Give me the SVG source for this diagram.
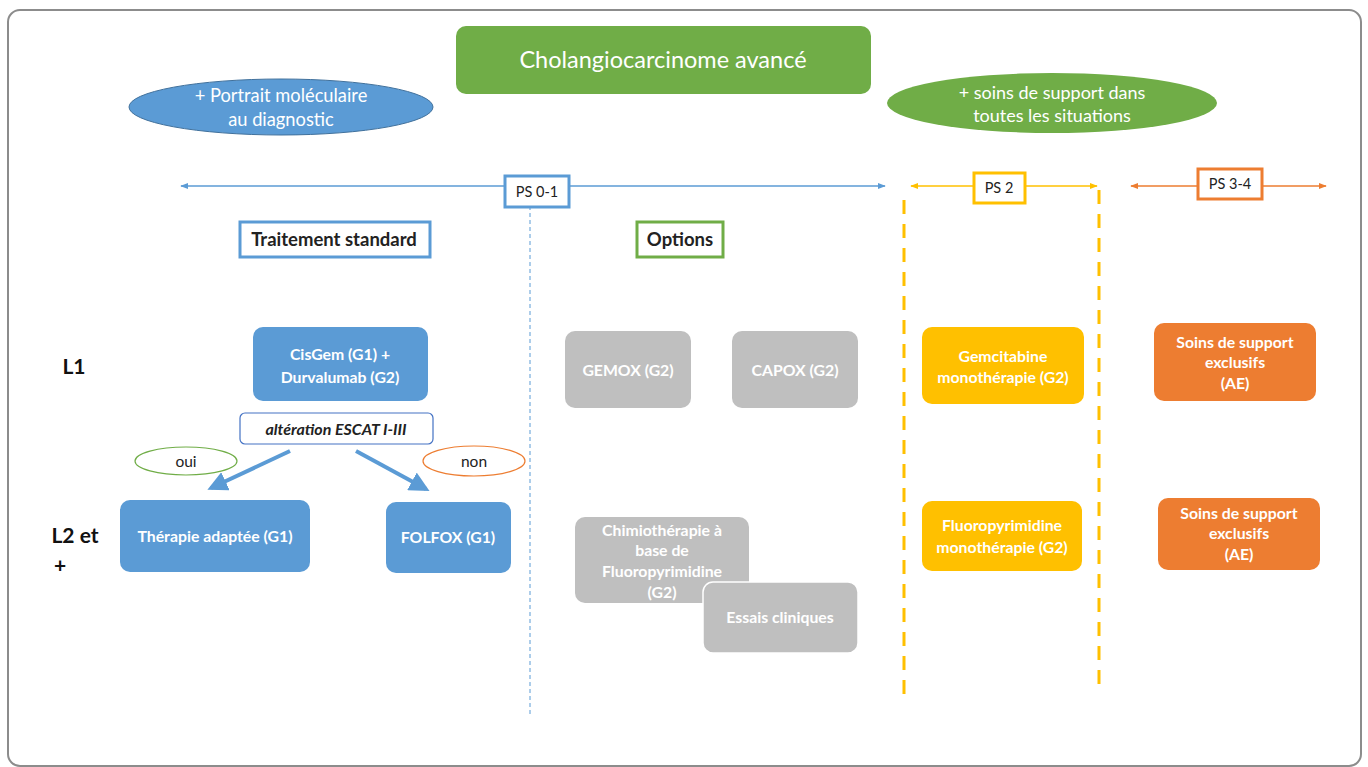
<svg xmlns="http://www.w3.org/2000/svg" width="1368" height="767" viewBox="0 0 1368 767">
<defs>
<style>
text{font-family:Lato,"Open Sans","Liberation Sans",sans-serif;text-anchor:middle}
.w{fill:#fff;font-weight:bold;font-size:15.8px}
.blue{fill:#5B9BD5}
.gray{fill:#BFBFBF}
.yel{fill:#FFC000}
.org{fill:#ED7D31}
.ps{fill:#fff;stroke-width:3}
.pst{font-size:14.5px;fill:#222}
.hdr{font-size:18.5px;font-weight:bold;fill:#222}
</style>
<marker id="ab" viewBox="0 0 10 10" refX="9" refY="5" markerWidth="8" markerHeight="8" orient="auto-start-reverse" markerUnits="userSpaceOnUse"><path d="M0,1 L10,5 L0,9 Z" fill="#5B9BD5"/></marker>
<marker id="ay" viewBox="0 0 10 10" refX="9" refY="5" markerWidth="8" markerHeight="8" orient="auto-start-reverse" markerUnits="userSpaceOnUse"><path d="M0,1 L10,5 L0,9 Z" fill="#FFC000"/></marker>
<marker id="ao" viewBox="0 0 10 10" refX="9" refY="5" markerWidth="8" markerHeight="8" orient="auto-start-reverse" markerUnits="userSpaceOnUse"><path d="M0,1 L10,5 L0,9 Z" fill="#ED7D31"/></marker>
<marker id="abig" viewBox="0 0 10 10" refX="8" refY="5" markerWidth="5" markerHeight="5" orient="auto"><path d="M0,0 L10,5 L0,10 Z" fill="#5B9BD5"/></marker>
</defs>
<rect x="0" y="0" width="1368" height="767" fill="#fff"/>
<rect x="8" y="10" width="1353" height="756" rx="12" fill="#fff" stroke="#8c8c8c" stroke-width="2"/>

<g id="title"><rect x="456" y="26" width="415" height="68" rx="10" fill="#70AD47"/><text x="663" y="68" font-size="23.5" fill="#fff">Cholangiocarcinome avancé</text></g>
<g id="portrait"><ellipse cx="281" cy="107" rx="152" ry="28" fill="#5B9BD5" stroke="#41719C" stroke-width="1"/><text x="281" y="102" font-size="18.3" fill="#fff">+ Portrait moléculaire</text><text x="281" y="126" font-size="18.3" fill="#fff">au diagnostic</text></g>
<g id="soins-all"><ellipse cx="1052" cy="103" rx="165" ry="30" fill="#70AD47"/><text x="1052" y="99" font-size="18" fill="#fff">+ soins de support dans</text><text x="1052" y="122" font-size="18" fill="#fff">toutes les situations</text></g>

<g id="connectors">
<line x1="181" y1="186" x2="885" y2="186" stroke="#5B9BD5" stroke-width="1.5" marker-start="url(#ab)" marker-end="url(#ab)"/>
<line x1="911" y1="186" x2="1097" y2="186" stroke="#FFC000" stroke-width="1.5" marker-start="url(#ay)" marker-end="url(#ay)"/>
<line x1="1131" y1="186" x2="1326" y2="186" stroke="#ED7D31" stroke-width="1.5" marker-start="url(#ao)" marker-end="url(#ao)"/>
<line x1="530" y1="192" x2="530" y2="716" stroke="#5B9BD5" stroke-width="1" stroke-dasharray="4,3"/>
<line x1="904" y1="200" x2="904" y2="704" stroke="#FFC000" stroke-width="3" stroke-dasharray="14,10"/>
<line x1="1099" y1="190" x2="1099" y2="692" stroke="#FFC000" stroke-width="3" stroke-dasharray="14,10"/>
<line x1="290" y1="451" x2="211" y2="488" stroke="#5B9BD5" stroke-width="4" marker-end="url(#abig)"/>
<line x1="356" y1="451" x2="426" y2="489" stroke="#5B9BD5" stroke-width="4" marker-end="url(#abig)"/>
</g>

<g id="ps01"><rect class="ps" x="505" y="176" width="64" height="31" stroke="#5B9BD5"/><text class="pst" x="537" y="197">PS 0-1</text></g>
<g id="ps2"><rect class="ps" x="974" y="173" width="51" height="30" stroke="#FFC000"/><text class="pst" x="999" y="193">PS 2</text></g>
<g id="ps34"><rect class="ps" x="1198" y="169" width="64" height="30" stroke="#ED7D31"/><text class="pst" x="1230" y="189">PS 3-4</text></g>

<g id="std"><rect x="240" y="222" width="190" height="35" fill="#fff" stroke="#5B9BD5" stroke-width="3"/><text class="hdr" x="334" y="246">Traitement standard</text></g>
<g id="options"><rect x="637" y="222" width="86" height="35" fill="#fff" stroke="#70AD47" stroke-width="3"/><text class="hdr" x="680" y="246">Options</text></g>

<g id="l1"><text x="74" y="374" font-size="21" font-weight="bold" fill="#111">L1</text></g>
<g id="l2"><text x="75" y="543" font-size="21" font-weight="bold" fill="#111">L2 et</text><text x="60" y="573" font-size="21" font-weight="bold" fill="#111">+</text></g>

<g id="cisgem"><rect class="blue" x="253" y="327" width="175" height="74" rx="10"/><text class="w" x="340" y="360">CisGem (G1) +</text><text class="w" x="340" y="383">Durvalumab (G2)</text></g>
<g id="escat"><rect x="240" y="413" width="193" height="31" rx="5" fill="#fff" stroke="#4472C4" stroke-width="1.2"/><text x="336" y="435" font-size="16" font-weight="bold" font-style="italic" fill="#222">altération ESCAT I-III</text></g>
<g id="oui"><ellipse cx="186" cy="461" rx="51" ry="14" fill="#fff" stroke="#70AD47" stroke-width="1.2"/><text x="186" y="467" font-size="15.5" fill="#222">oui</text></g>
<g id="non"><ellipse cx="474" cy="461" rx="51" ry="15" fill="#fff" stroke="#ED7D31" stroke-width="1.2"/><text x="474" y="467" font-size="15.5" fill="#222">non</text></g>
<g id="therapie"><rect class="blue" x="120" y="500" width="190" height="72" rx="10"/><text class="w" x="215" y="542">Thérapie adaptée (G1)</text></g>
<g id="folfox"><rect class="blue" x="386" y="502" width="125" height="71" rx="10"/><text class="w" x="448" y="543">FOLFOX (G1)</text></g>

<g id="gemox"><rect class="gray" x="565" y="331" width="126" height="77" rx="10"/><text class="w" x="628" y="376">GEMOX (G2)</text></g>
<g id="capox"><rect class="gray" x="732" y="331" width="126" height="77" rx="10"/><text class="w" x="795" y="376">CAPOX (G2)</text></g>
<g id="chimio"><rect class="gray" x="575" y="517" width="174" height="86" rx="10"/><text class="w" x="662" y="536">Chimiothérapie à</text><text class="w" x="662" y="556">base de</text><text class="w" x="662" y="577">Fluoropyrimidine</text><text class="w" x="662" y="598">(G2)</text></g>
<g id="essais"><rect class="gray" x="703" y="582" width="155" height="71" rx="10" stroke="#fff" stroke-width="1.5"/><text class="w" x="780" y="623">Essais cliniques</text></g>

<g id="gemcitabine"><rect class="yel" x="922" y="327" width="162" height="77" rx="10"/><text class="w" x="1003" y="362">Gemcitabine</text><text class="w" x="1003" y="383">monothérapie (G2)</text></g>
<g id="fluoro"><rect class="yel" x="922" y="501" width="160" height="70" rx="10"/><text class="w" x="1002" y="531">Fluoropyrimidine</text><text class="w" x="1002" y="553">monothérapie (G2)</text></g>
<g id="soins1"><rect class="org" x="1154" y="323" width="162" height="78" rx="10"/><text class="w" x="1235" y="348">Soins de support</text><text class="w" x="1235" y="368">exclusifs</text><text class="w" x="1235" y="389">(AE)</text></g>
<g id="soins2"><rect class="org" x="1158" y="498" width="162" height="72" rx="10"/><text class="w" x="1239" y="519">Soins de support</text><text class="w" x="1239" y="539">exclusifs</text><text class="w" x="1239" y="560">(AE)</text></g>
</svg>
